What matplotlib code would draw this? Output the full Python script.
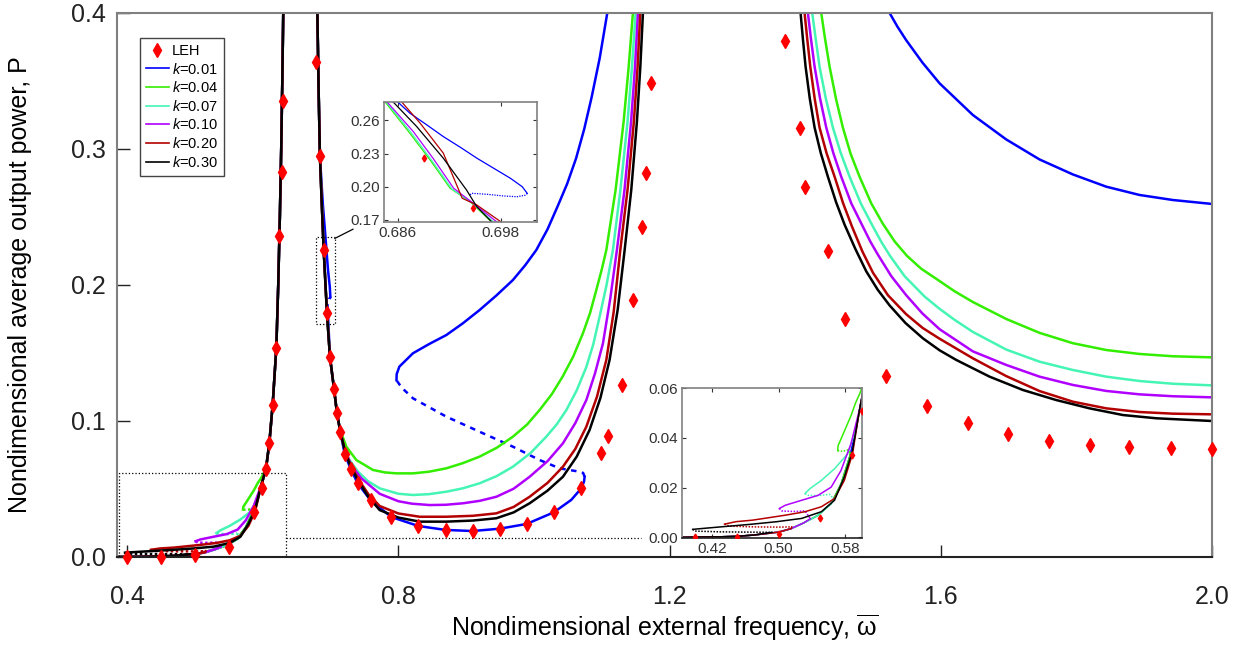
import numpy as np
import matplotlib.pyplot as plt
from matplotlib.patches import Rectangle
from matplotlib.lines import Line2D
from matplotlib.ticker import FormatStrFormatter

plt.rcParams['font.family'] = 'Liberation Sans'
plt.rcParams['mathtext.fontset'] = 'custom'
plt.rcParams['mathtext.rm'] = 'Liberation Sans'
plt.rcParams['mathtext.it'] = 'Liberation Sans:italic'

k_labels = ['0.01', '0.04', '0.07', '0.10', '0.20', '0.30']
colors = ['#0000ff', '#33ee00', '#44f5b4', '#b000ff', '#b30000', '#000000']

# LEH (linear energy harvester) points
leh_x = [0.400, 0.450, 0.5006, 0.550, 0.5876, 0.5994, 0.6047, 0.6097, 0.6146, 0.620,
         0.6242, 0.6283, 0.6298,
         0.679, 0.6843, 0.6898, 0.6946, 0.6991, 0.705, 0.7094, 0.7144, 0.7208, 0.7296,
         0.7399, 0.759, 0.7896, 0.8294, 0.8697, 0.9095, 0.9493, 0.9892, 1.0294, 1.0698,
         1.0993, 1.109, 1.1297, 1.1459, 1.1592, 1.1646, 1.172,
         1.3696, 1.3917, 1.3995, 1.434, 1.4591, 1.5185, 1.579, 1.6395, 1.6984, 1.7589,
         1.8194, 1.8783, 1.9388, 1.9993]
leh_p = [0.0, 0.0, 0.0013, 0.0076, 0.0331, 0.051, 0.0647, 0.084, 0.1118, 0.1539,
         0.236, 0.2833, 0.3353,
         0.364, 0.2946, 0.2257, 0.1796, 0.1473, 0.1238, 0.1059, 0.0921, 0.0757, 0.0649,
         0.0542, 0.0417, 0.0294, 0.0228, 0.0199, 0.0191, 0.0208, 0.0243, 0.0329, 0.0505,
         0.0763, 0.0892, 0.1267, 0.189, 0.2429, 0.2826, 0.3485,
         0.3794, 0.3157, 0.2718, 0.2253, 0.1751, 0.1329, 0.111, 0.0983, 0.0904, 0.0853,
         0.0826, 0.0809, 0.0799, 0.0796]

# low-frequency branch shared by all k (left peak)
low_x = np.array([0.385, 0.40, 0.43, 0.45, 0.47, 0.50, 0.515, 0.53, 0.547, 0.563, 0.575,
                  0.585, 0.593, 0.5975, 0.6047, 0.6097, 0.6146, 0.620, 0.6228, 0.6252,
                  0.6272, 0.6288, 0.6302])
low_p = np.array([0.0, 0.0001, 0.0002, 0.0004, 0.0009, 0.0021, 0.0035, 0.0058, 0.0088,
                  0.0136, 0.0216, 0.0322, 0.0436, 0.0522, 0.0647, 0.084, 0.112, 0.154,
                  0.20, 0.25, 0.30, 0.35, 0.40])

# upper stable branches of the low-frequency loops (k = 0.04 ... 0.30)
up04_x = [0.5709, 0.5712, 0.5748, 0.5807, 0.5867, 0.5925, 0.5975, 0.6047]
up04_p = [0.0349, 0.0368, 0.0396, 0.0442, 0.0489, 0.0543, 0.058, 0.0647]
up07_x = [0.5316, 0.5375, 0.5512, 0.567, 0.5827, 0.593]
up07_p = [0.0176, 0.0196, 0.0229, 0.0276, 0.0336, 0.0436]
up10_x = [0.5008, 0.5079, 0.5275, 0.5473, 0.563, 0.5748, 0.5867, 0.5975]
up10_p = [0.0116, 0.0129, 0.0149, 0.0169, 0.0202, 0.0269, 0.0376, 0.0522]
up20_x = [0.435, 0.4488, 0.4685, 0.4882, 0.5079, 0.5316, 0.5512, 0.567, 0.5788, 0.5886, 0.5975]
up20_p = [0.0053, 0.0063, 0.0069, 0.0079, 0.0089, 0.0103, 0.0123, 0.0156, 0.0229, 0.0336, 0.0522]
up30_x = [0.3968, 0.4134, 0.441, 0.4685, 0.498, 0.5275, 0.5512, 0.567, 0.5788, 0.5886, 0.5975]
up30_p = [0.0032, 0.0037, 0.0045, 0.0053, 0.0063, 0.0076, 0.0103, 0.0149, 0.0243, 0.0349, 0.0522]

# unstable branches of the low-frequency loops
dot04_x = [0.5709, 0.5768, 0.5827, 0.586]
dot04_p = [0.0349, 0.0346, 0.0352, 0.034]
dot07_x = [0.5316, 0.5355, 0.548, 0.561, 0.566]
dot07_p = [0.0176, 0.0169, 0.0168, 0.0173, 0.0155]
dot10_x = [0.5008, 0.5039, 0.518, 0.5316, 0.538]
dot10_p = [0.0116, 0.0106, 0.0104, 0.0106, 0.0075]
dot20_x = [0.435, 0.441, 0.47, 0.50, 0.5157]
dot20_p = [0.0053, 0.0045, 0.0042, 0.0041, 0.0042]
dot30_x = [0.3968, 0.3996, 0.43, 0.46, 0.4921]
dot30_p = [0.0032, 0.0025, 0.0022, 0.0021, 0.002]

# right side of the first peak, common to all k
desc_x = [0.6805, 0.6825, 0.6843, 0.687, 0.6898, 0.6946, 0.6991, 0.705, 0.7094, 0.7144]
desc_p = [0.40, 0.34, 0.2946, 0.26, 0.226, 0.18, 0.147, 0.124, 0.106, 0.092]

# U-shaped branches between the two peaks
u04_x = [0.7159, 0.7233, 0.738, 0.7625, 0.78, 0.797, 0.8215, 0.845, 0.8707, 0.895, 0.9198,
         0.945, 0.969, 0.99, 1.0083, 1.026, 1.0422, 1.058, 1.0722, 1.0828, 1.0919, 1.1,
         1.1067, 1.1204, 1.1322, 1.1396, 1.1459]
u04_p = [0.091, 0.0811, 0.0713, 0.064, 0.0622, 0.0615, 0.0615, 0.0627, 0.0652, 0.069,
         0.0738, 0.0803, 0.0885, 0.0975, 0.1081, 0.1195, 0.1326, 0.1475, 0.1645, 0.1795,
         0.1963, 0.2115, 0.2257, 0.27, 0.32, 0.36, 0.40]
u07_x = [0.7185, 0.727, 0.74, 0.755, 0.7724, 0.80, 0.8215, 0.845, 0.8707, 0.895, 0.9198,
         0.945, 0.969, 0.995, 1.0182, 1.0335, 1.0477, 1.063, 1.0772, 1.0875, 1.0968, 1.107,
         1.1164, 1.1275, 1.138, 1.1445, 1.1499]
u07_p = [0.083, 0.072, 0.063, 0.0558, 0.0505, 0.0465, 0.0456, 0.0462, 0.048, 0.0505,
         0.0542, 0.0595, 0.0664, 0.0765, 0.0885, 0.0975, 0.108, 0.1225, 0.1397, 0.1565,
         0.1767, 0.2, 0.2257, 0.27, 0.32, 0.36, 0.40]
u10_x = [0.72, 0.73, 0.745, 0.7724, 0.80, 0.82, 0.8461, 0.87, 0.8952, 0.92, 0.9445, 0.97,
         0.9936, 1.02, 1.0427, 1.061, 1.0772, 1.09, 1.1017, 1.1125, 1.1223, 1.1335, 1.1432,
         1.149, 1.1533]
u10_p = [0.080, 0.068, 0.058, 0.0465, 0.041, 0.0392, 0.0382, 0.0384, 0.0395, 0.0413, 0.0443,
         0.0502, 0.059, 0.0705, 0.0836, 0.0985, 0.1154, 0.135, 0.157, 0.19, 0.2257, 0.27,
         0.32, 0.36, 0.40]
u20_x = [0.722, 0.731, 0.742, 0.756, 0.7724, 0.80, 0.8314, 0.8707, 0.91, 0.9445, 0.97, 0.9936,
         1.02, 1.0427, 1.061, 1.0772, 1.093, 1.1067, 1.1175, 1.1273, 1.138, 1.1473, 1.1528,
         1.1568]
u20_p = [0.077, 0.066, 0.0565, 0.046, 0.0375, 0.032, 0.0296, 0.0296, 0.0303, 0.0321, 0.0368,
         0.0443, 0.0545, 0.0664, 0.0795, 0.0958, 0.118, 0.1449, 0.18, 0.2257, 0.27, 0.32, 0.36,
         0.40]
u30_x = [0.722, 0.731, 0.742, 0.756, 0.7724, 0.80, 0.8314, 0.8707, 0.91, 0.9445, 0.97, 0.9936,
         1.02, 1.0427, 1.063, 1.082, 1.098, 1.1115, 1.1235, 1.1337, 1.1435, 1.1518, 1.1568,
         1.1607]
u30_p = [0.076, 0.065, 0.055, 0.044, 0.0345, 0.029, 0.026, 0.026, 0.0268, 0.0285, 0.0328,
         0.0395, 0.0488, 0.059, 0.0738, 0.0934, 0.117, 0.1449, 0.182, 0.2257, 0.27, 0.32,
         0.36, 0.40]

# branches right of the second peak
r01_x = [1.5245, 1.536, 1.549, 1.573, 1.5982, 1.6473, 1.6966, 1.7457, 1.7948, 1.844,
         1.8931, 1.9422, 2.0]
r01_p = [0.40, 0.39, 0.380, 0.3635, 0.3483, 0.325, 0.307, 0.2923, 0.2813, 0.2723,
         0.2662, 0.2625, 0.2596]
r04_x = [1.4237, 1.429, 1.436, 1.4456, 1.4556, 1.467, 1.4802, 1.4975, 1.5146, 1.532, 1.55,
         1.571, 1.5935, 1.62, 1.6473, 1.6966, 1.7457, 1.7948, 1.844, 1.8931, 1.9422, 2.0]
r04_p = [0.40, 0.382, 0.3605, 0.3365, 0.3157, 0.2965, 0.2796, 0.260, 0.245, 0.232, 0.2215,
         0.212, 0.2045, 0.1955, 0.1875, 0.175, 0.1648, 0.1572, 0.1522, 0.1493, 0.1476, 0.1468]
r07_x = [1.4104, 1.4155, 1.4212, 1.4305, 1.4409, 1.4525, 1.4655, 1.482, 1.5, 1.5125, 1.525,
         1.5466, 1.5761, 1.5982, 1.62, 1.6473, 1.6966, 1.7457, 1.7948, 1.844, 1.8931,
         1.9422, 2.0]
r07_p = [0.40, 0.381, 0.3605, 0.337, 0.3157, 0.297, 0.2796, 0.260, 0.2429, 0.2315, 0.2215,
         0.2065, 0.1915, 0.1825, 0.1745, 0.1655, 0.1525, 0.1436, 0.1375, 0.1326, 0.1294,
         0.1274, 0.1262]
r10_x = [1.404, 1.4085, 1.4139, 1.422, 1.4311, 1.4415, 1.4532, 1.468, 1.4851, 1.496, 1.507,
         1.527, 1.549, 1.573, 1.5982, 1.6473, 1.6966, 1.7457, 1.7948, 1.844, 1.8931,
         1.9422, 2.0]
r10_p = [0.40, 0.381, 0.3605, 0.337, 0.3157, 0.297, 0.2796, 0.260, 0.2429, 0.232, 0.2225,
         0.2065, 0.1925, 0.179, 0.1675, 0.1512, 0.1412, 0.1326, 0.1265, 0.1221, 0.1196,
         0.1182, 0.1174]
r20_x = [1.3991, 1.403, 1.4075, 1.414, 1.4212, 1.4315, 1.4434, 1.456, 1.469, 1.4845, 1.5,
         1.522, 1.549, 1.573, 1.5982, 1.6473, 1.6966, 1.7457, 1.7948, 1.844, 1.8931,
         1.9422, 2.0]
r20_p = [0.40, 0.381, 0.3605, 0.337, 0.3157, 0.297, 0.2796, 0.260, 0.243, 0.2245, 0.209,
         0.1925, 0.1785, 0.1685, 0.1605, 0.1461, 0.133, 0.122, 0.1142, 0.1093, 0.1066,
         0.1054, 0.1049]
r30_x = [1.3932, 1.3966, 1.4006, 1.4068, 1.4139, 1.423, 1.4335, 1.4455, 1.458, 1.474,
         1.4901, 1.507, 1.5245, 1.548, 1.5736, 1.5982, 1.6228, 1.672, 1.7211, 1.7703,
         1.8194, 1.8685, 1.9177, 2.0]
r30_p = [0.40, 0.381, 0.3605, 0.337, 0.3157, 0.297, 0.2796, 0.261, 0.2445, 0.2265,
         0.210, 0.1965, 0.185, 0.172, 0.1608, 0.152, 0.1449, 0.1326, 0.1228, 0.1154,
         0.1093, 0.1044, 0.102, 0.100]

# k = 0.01 (blue) around the first and second peaks
b_top_x = [0.6805, 0.6825, 0.6843, 0.6885, 0.6925, 0.6962, 0.6988, 0.6997]
b_top_p = [0.40, 0.34, 0.2946, 0.26, 0.235, 0.211, 0.199, 0.1914]
b_tip_x = [0.6997, 0.6985, 0.6955]
b_tip_p = [0.1914, 0.189, 0.190]
b_low_x = [0.6955, 0.6991, 0.705, 0.7094, 0.7144, 0.7208, 0.7296, 0.7399, 0.759, 0.7896,
           0.8294, 0.8697, 0.9095, 0.9493, 0.9892, 1.0294, 1.055, 1.0698, 1.0738, 1.0747]
b_low_p = [0.185, 0.147, 0.124, 0.106, 0.092, 0.0757, 0.0649, 0.0542, 0.0417, 0.0294,
           0.0228, 0.0199, 0.0191, 0.0208, 0.0243, 0.0329, 0.042, 0.0505, 0.0555, 0.059]
b_dot_x = [1.0747, 1.0725, 1.0673, 1.0378, 1.0083, 0.969, 0.9198, 0.8707, 0.8215, 0.805, 0.7972]
b_dot_p = [0.059, 0.0618, 0.0627, 0.0652, 0.0713, 0.0811, 0.0921, 0.1032, 0.1167, 0.1245, 0.130]
b_up_x = [0.7972, 0.7975, 0.8015, 0.8215, 0.845, 0.8707, 0.895, 0.9198, 0.945, 0.969, 0.987,
          1.0034, 1.02, 1.035, 1.049, 1.062, 1.074, 1.085, 1.097, 1.1081]
b_up_p = [0.130, 0.1345, 0.140, 0.1498, 0.1565, 0.1632, 0.1718, 0.1816, 0.1925, 0.2037,
          0.2145, 0.2257, 0.241, 0.258, 0.2745, 0.293, 0.3145, 0.338, 0.367, 0.40]

# upper inset (zoom near omega = 0.69)
in1_x = {
    '0.04': [0.68448, 0.6874, 0.68975, 0.69209, 0.69443, 0.69697],
    '0.07': [0.6846, 0.6876, 0.6899, 0.6923, 0.6946, 0.6972],
    '0.10': [0.6847, 0.6878, 0.6901, 0.6925, 0.6948, 0.6976],
    '0.20': [0.6864, 0.6886, 0.6913, 0.6935, 0.6952, 0.6981],
    '0.30': [0.6854, 0.6882, 0.6913, 0.694, 0.6952, 0.697],
}
in1_p = {
    '0.04': [0.2773, 0.2485, 0.2243, 0.1986, 0.1864, 0.1676],
    '0.07': [0.2773, 0.2485, 0.2243, 0.1979, 0.1855, 0.1676],
    '0.10': [0.2773, 0.25, 0.2258, 0.1986, 0.1849, 0.1676],
    '0.20': [0.2773, 0.2576, 0.2304, 0.1895, 0.1834, 0.1676],
    '0.30': [0.2773, 0.2545, 0.2258, 0.197, 0.1818, 0.1676],
}
in1_b_x = [0.68592, 0.6874, 0.68936, 0.6913, 0.69326, 0.69521, 0.69716, 0.69911, 0.70048, 0.70107]
in1_b_p = [0.2773, 0.2667, 0.2561, 0.2454, 0.2358, 0.2258, 0.2167, 0.2076, 0.2000, 0.1939]
in1_bd_x = [0.70107, 0.7008, 0.6999, 0.6983, 0.6964, 0.6946, 0.6944]
in1_bd_p = [0.1939, 0.1922, 0.1909, 0.1916, 0.1931, 0.1940, 0.1925]
in1_leh_x = [0.6890, 0.6947]
in1_leh_p = [0.2261, 0.1804]

up_x = [up04_x, up07_x, up10_x, up20_x, up30_x]
up_p = [up04_p, up07_p, up10_p, up20_p, up30_p]
dot_x = [dot04_x, dot07_x, dot10_x, dot20_x, dot30_x]
dot_p = [dot04_p, dot07_p, dot10_p, dot20_p, dot30_p]
u_x = [u04_x, u07_x, u10_x, u20_x, u30_x]
u_p = [u04_p, u07_p, u10_p, u20_p, u30_p]
r_x = [r04_x, r07_x, r10_x, r20_x, r30_x]
r_p = [r04_p, r07_p, r10_p, r20_p, r30_p]


def draw_low(a, lw, dot_style):
    # blue has no loop: it follows the shared branch
    a.plot(low_x, low_p, color=colors[0], lw=lw)
    for i in range(5):
        c = colors[i + 1]
        # lower stable part up to the fold
        m = low_x < dot_x[i][-1]
        a.plot(np.r_[low_x[m], dot_x[i][-1]], np.r_[low_p[m], dot_p[i][-1]], color=c, lw=lw)
        # unstable part
        a.plot(dot_x[i], dot_p[i], color=c, lw=lw, ls=dot_style)
        # upper stable part, joining the shared branch
        m2 = low_x > up_x[i][-1]
        a.plot(np.r_[up_x[i], low_x[m2]], np.r_[up_p[i], low_p[m2]], color=c, lw=lw)


fig = plt.figure(figsize=(12.36, 6.49), dpi=100)
ax = fig.add_axes([117 / 1236, 1 - 557 / 649, 1095 / 1236, 544 / 649])

lw = 1.8
draw_low(ax, lw, (0, (1, 1)))

# k = 0.01
ax.plot(b_top_x, b_top_p, color=colors[0], lw=lw)
ax.plot(b_tip_x, b_tip_p, color=colors[0], lw=lw, ls=(0, (1, 1)))
ax.plot(b_low_x, b_low_p, color=colors[0], lw=lw)
ax.plot(b_dot_x, b_dot_p, color=colors[0], lw=lw, ls=(0, (2.2, 2.2)))
ax.plot(b_up_x, b_up_p, color=colors[0], lw=lw)
ax.plot(r01_x, r01_p, color=colors[0], lw=lw)

for i in range(5):
    c = colors[i + 1]
    ax.plot(desc_x + u_x[i], desc_p + u_p[i], color=c, lw=lw)
    ax.plot(r_x[i], r_p[i], color=c, lw=lw)

ax.plot(leh_x, leh_p, ls='none', marker='d', color='#ff0000', ms=7, mec='#ff0000',
        clip_on=False, zorder=5)

# zoom boxes and connectors
ax.add_patch(Rectangle((0.3879, 0.0), 0.6337 - 0.3879, 0.062, fill=False, ls=':', lw=0.9,
                       ec='black', zorder=4))
ax.plot([0.6337, 1.1583], [0.014, 0.014], color='black', ls=':', lw=0.9)
ax.add_patch(Rectangle((0.678, 0.171), 0.7064 - 0.678, 0.2355 - 0.171, fill=False, ls=':',
                       lw=0.9, ec='black', zorder=4))
ax.plot([0.7064, 0.733], [0.2343, 0.241], color='black', lw=0.9)

ax.set_xlim(0.385, 2.0)
ax.set_ylim(0, 0.4)
ax.set_xticks([0.4, 0.8, 1.2, 1.6, 2.0])
ax.set_yticks([0.0, 0.1, 0.2, 0.3, 0.4])
ax.xaxis.set_major_formatter(FormatStrFormatter('%.1f'))
ax.yaxis.set_major_formatter(FormatStrFormatter('%.1f'))
ax.tick_params(direction='in', length=9, width=1, labelsize=18, colors='#222222')
ax.tick_params(axis='x', pad=20)
ax.tick_params(axis='y', pad=8)
for s in ['top', 'left', 'right']:
    ax.spines[s].set_color('#808080')
    ax.spines[s].set_linewidth(1.5)
ax.spines['bottom'].set_color('#222222')
ax.spines['bottom'].set_linewidth(1.5)
ax.set_xlabel(r'Nondimensional external frequency, $\overline{\mathrm{\omega}}$', fontsize=18,
              labelpad=3)
ax.set_ylabel('Nondimensional average output power, P', fontsize=18, labelpad=28)

handles = [Line2D([], [], ls='none', marker='d', color='#ff0000', ms=7, label='LEH')]
for c, k in zip(colors, k_labels):
    handles.append(Line2D([], [], color=c, lw=1.2, label=r'$k$=' + k))
leg = ax.legend(handles=handles, loc='upper left', bbox_to_anchor=(0.021, 0.954),
                borderaxespad=0, fontsize=10.5, handlelength=1.6, handletextpad=0.2,
                labelspacing=0.25, borderpad=0.4, fancybox=False, framealpha=1,
                edgecolor='#444444')
leg.get_frame().set_linewidth(1.0)

# upper inset
ax1 = fig.add_axes([384 / 1236, 1 - 222 / 649, 153 / 1236, 120.3 / 649])
ax1.plot(in1_b_x, in1_b_p, color=colors[0], lw=0.9)
ax1.plot(in1_bd_x, in1_bd_p, color=colors[0], lw=0.9, ls=(0, (1, 1)))
for c, k in zip(colors[1:], k_labels[1:]):
    ax1.plot(in1_x[k], in1_p[k], color=c, lw=0.9)
ax1.plot(in1_leh_x, in1_leh_p, ls='none', marker='d', color='#ff0000', ms=3.5)
ax1.set_xlim(0.6844, 0.7022)
ax1.set_ylim(0.168, 0.277)
ax1.set_xticks([0.686, 0.698])
ax1.set_yticks([0.17, 0.20, 0.23, 0.26])
ax1.xaxis.set_major_formatter(FormatStrFormatter('%.3f'))
ax1.yaxis.set_major_formatter(FormatStrFormatter('%.2f'))

# lower inset
ax2 = fig.add_axes([682 / 1236, 1 - 538.3 / 649, 180 / 1236, 150 / 649])
draw_low(ax2, 1.1, (0, (1, 1)))
ax2.plot(leh_x, leh_p, ls='none', marker='d', color='#ff0000', ms=3.5, zorder=5)
ax2.set_xlim(0.384, 0.600)
ax2.set_ylim(-0.0004, 0.06)
ax2.set_xticks([0.42, 0.50, 0.58])
ax2.set_yticks([0.0, 0.02, 0.04, 0.06])
ax2.xaxis.set_major_formatter(FormatStrFormatter('%.2f'))
ax2.yaxis.set_major_formatter(FormatStrFormatter('%.2f'))

for a in (ax1, ax2):
    a.tick_params(direction='in', length=3, width=0.8, labelsize=11, colors='#333333',
                  top=True, right=True, pad=3)
    for s in a.spines.values():
        s.set_color('#808080')
        s.set_linewidth(1.2)
ax2.spines['bottom'].set_color('#222222')

fig.savefig('out.png', dpi=100)
